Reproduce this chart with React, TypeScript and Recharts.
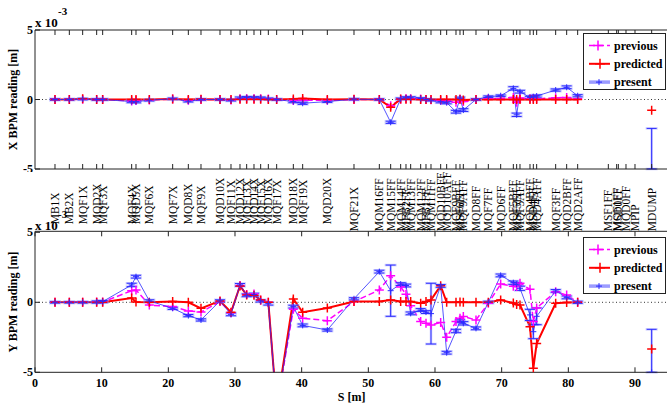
import React from "react";
import { LineChart, Line, XAxis, YAxis, ErrorBar, ReferenceLine, Legend, Customized } from "recharts";

const SERIF = "'Liberation Serif', 'Times New Roman', Times, serif";
const MAGENTA = "#ff00ff";
const RED = "#ff0000";
const BLUE = "#2b2bff";
const LIGHT_BLUE = "#9c9cff";
const AXIS = "#222";

// element names along the beamline and their s position [m]
const elementNames = [
  "MB1X", "MB2X", "MQF1X", "MQD2X", "MQF3X", "MQF4X", "MQD5X", "MQF6X", "MQF7X", "MQD8X",
  "MQF9X", "MQD10X", "MQF11X", "MQD12X", "MQF13X", "MQD14X", "MQF15X", "MQD16X", "MQF17X", "MQD18X",
  "MQF19X", "MQD20X", "MQF21X", "MQM16FF", "MQM15FF", "MQM14FF", "MFB2FF", "MQM13FF", "MQM12FF", "MFB1FF",
  "MQM11FF", "MQD10BFF", "MQD10AFF", "MQF9BFF", "MSF6FF", "MQF9AFF", "MQD8FF", "MQF7FF", "MQD6FF", "MQF5BFF",
  "MSF5FF", "MQF5AFF", "MQD4BFF", "MSD4FF", "MQD4AFF", "MQF3FF", "MQD2BFF", "MQD2AFF", "MSF1FF", "MQF1FF",
  "MSD0FF", "MQD0FF", "MPIP", "MDUMP",
];
const elementS = [
  3.0, 5.15, 7.15, 9.25, 10.15, 14.5, 15.15, 17.15, 20.65, 23.0,
  24.9, 27.75, 29.4, 30.75, 31.75, 32.85, 33.85, 35.0, 36.25, 38.75,
  40.15, 43.85, 47.85, 51.65, 53.35, 54.85, 55.65, 56.35, 57.85, 58.65,
  59.4, 60.85, 61.75, 63.15, 63.75, 64.25, 66.15, 68.0, 69.85, 71.75,
  72.25, 72.75, 74.25, 74.75, 75.25, 78.1, 79.75, 81.4, 86.0, 87.25,
  87.5, 88.65, 90.0, 92.5,
];

// X plane readings [1e-3 m]
const xPrevious = [
  0, 0, 0.02, 0, 0, -0.1, -0.08, -0.03, 0.03, -0.05,
  0, 0, -0.03, 0.05, 0.06, 0.06, 0.05, 0.03, 0, -0.08,
  -0.05, -0.06, 0, 0, -0.45, 0.02, 0.05, 0.05, 0.03, 0,
  -0.02, -0.05, -0.08, -0.2, 0.02, -0.15, 0, 0.05, 0.08, 0.15,
  -0.2, 0.1, 0.05, 0.05, 0.05, 0.12, 0.15, 0.05, null, null,
  null, null, null, null,
];
const xPredicted = [
  0, 0, 0.05, 0, 0, 0, 0, 0, 0.03, 0,
  0.02, 0, 0, 0.02, 0.02, 0.02, 0.02, 0, 0, 0.03,
  0.08, 0, 0.02, 0, -0.56, 0.03, 0.02, 0.02, 0, 0,
  0, 0, 0, 0, 0.02, -0.03, 0, 0, 0, 0,
  0, 0, 0, 0, 0, 0, 0, 0, null, null,
  null, null, null, -0.77,
];
const xPresent = [
  0, 0, 0.03, 0, 0, -0.15, -0.16, -0.05, 0.05, -0.12,
  0, 0, -0.05, 0.1, 0.13, 0.12, 0.1, 0.05, 0, -0.15,
  -0.27, -0.15, 0.02, 0, -1.64, 0.05, 0.12, 0.12, 0.07, 0,
  -0.05, -0.16, -0.23, -0.88, 0.09, -0.76, 0, 0.2, 0.27, 0.8,
  -1.1, 0.56, 0.15, 0.2, 0.25, 0.68, 0.88, 0.27, null, null,
  null, null, null, -5.0,
];
// symmetric, or [below, above]
const xPresentErr = [
  0.06, 0.06, 0.06, 0.06, 0.06, 0.08, 0.08, 0.06, 0.06, 0.06,
  0.06, 0.06, 0.06, 0.08, 0.08, 0.08, 0.08, 0.06, 0.06, 0.08,
  0.08, 0.06, 0.06, 0.06, 0.08, 0.06, 0.08, 0.08, 0.06, 0.06,
  0.06, 0.08, 0.08, 0.1, 0.08, 0.1, 0.06, 0.06, 0.06, 0.12,
  0.12, 0.1, 0.08, 0.08, 0.08, 0.08, 0.1, 0.08, null, null,
  null, null, null, [0, 2.92],
];

// Y plane readings [1e-3 m]
const yPrevious = [
  0, 0, 0, 0.02, 0.02, 0.83, 0.88, -0.2, -0.3, -0.62,
  -0.7, 0.05, -0.75, 1.2, 0.55, 0.6, 0.15, 0, -7.5, -0.5,
  -1.14, -1.31, 0.05, 0.88, 1.9, 1.1, 0.57, -0.24, -1.38, -1.5,
  -1.62, -1.45, -2.5, -1.38, -1.14, -1.02, -1.26, -0.07, 1.3, 1.15,
  1.12, 1.36, 0.93, -1.38, -0.4, 0.76, 0.52, 0, null, null,
  null, null, null, null,
];
const yPredicted = [
  0, 0, 0, 0, 0, 0.3, 0.02, 0, 0.05, 0,
  -0.43, 0.1, -0.71, 1.17, 0.52, 0.5, 0.17, 0, -7.5, 0.24,
  -0.71, -0.4, 0.05, 0.05, 0.17, 0.05, 0.05, 0.05, -0.07, 0.05,
  0.17, 1.19, 0, 0, 0.02, 0, 0, 0, 0.17, -0.05,
  -0.15, -0.19, -1.74, -4.71, -2.95, -0.07, -0.02, 0, null, null,
  null, null, null, -3.33,
];
const yPresent = [
  0, 0, 0, 0.02, 0.05, 1.24, 1.83, 0.1, -0.43, -0.95,
  -1.26, 0.1, -0.86, 1.24, 0.5, 0.55, 0.1, -0.1, -7.5, -0.31,
  -1.65, -1.98, 0.25, 2.19, 0.83, 1.3, 1.2, -0.79, -0.55, -0.7,
  -0.81, 1.17, -3.6, -2.05, -1.35, -1.5, -1.86, 0, 1.92, 1.4,
  1.29, 1.0, -0.9, -2.1, -1.0, 0.81, 0.35, 0, null, null,
  null, null, null, -5.0,
];
const yPresentErr = [
  0.06, 0.06, 0.06, 0.08, 0.08, 0.12, 0.1, 0.08, 0.08, 0.08,
  0.08, 0.08, 0.1, 0.1, 0.1, 0.1, 0.08, 0.1, 0.1, 0.1,
  0.1, 0.08, 0.08, 0.1, 1.83, 0.1, 0.1, 0.1, 0.1, 0.1,
  2.17, 0.1, 0.1, 0.12, 0.1, 0.12, 0.1, 0.08, 0.1, 0.12,
  0.12, 0.15, 0.4, 0.5, 0.6, 0.1, 0.1, 0.08, null, null,
  null, null, null, [0, 3.07],
];

const sTicks = [0, 10, 20, 30, 40, 50, 60, 70, 80, 90];
const readingTicks = [-5, 0, 5];
const legendItems = ["previous", "predicted", "present"];

const toRows = (prev, pred, pres, err) =>
  elementS.map((s, i) => ({ s, previous: prev[i], predicted: pred[i], present: pres[i], presentErr: err[i] }));

const xRows = toRows(xPrevious, xPredicted, xPresent, xPresentErr);
const yRows = toRows(yPrevious, yPredicted, yPresent, yPresentErr);

const W = 690;
const LEFT = 35;
const PLOT_W = 633.33;
const RIGHT = W - LEFT - PLOT_W;

function plusDot(color, r, w) {
  return (p) => {
    const { cx, cy, index, value } = p;
    if (cx == null || cy == null || value == null || Number.isNaN(cy)) return <g key={"d" + index} />;
    return (
      <path
        key={"d" + index}
        d={`M${cx - r},${cy}H${cx + r}M${cx},${cy - r}V${cy + r}`}
        stroke={color}
        strokeWidth={w}
        fill="none"
      />
    );
  };
}

const bold = { fontFamily: SERIF, fontWeight: "bold", fontSize: 12, fill: "#000" };

const tickUp = (withLabel) => (p) => (
  <g>
    <line x1={p.x} x2={p.x} y1={p.y} y2={p.y - 5} stroke={AXIS} />
    {withLabel && (
      <text x={p.x} y={p.y + 15} textAnchor="middle" {...bold}>
        {p.payload.value}
      </text>
    )}
  </g>
);
const tickDown = (p) => <line x1={p.x} x2={p.x} y1={p.y} y2={p.y + 5} stroke={AXIS} />;
const yTick = (p) => (
  <g>
    <line x1={p.x} x2={p.x + 5} y1={p.y} y2={p.y} stroke={AXIS} />
    <text x={p.x - 2} y={p.y + 4} textAnchor="end" {...bold}>
      {p.payload.value}
    </text>
  </g>
);
const nameTick = (p) => {
  const lift = p.index < 22 ? 8 : 1;
  const x = p.x + 4;
  const y = p.y - lift;
  return (
    <text x={x} y={y} transform={`rotate(-90, ${x}, ${y})`} fontFamily={SERIF} fontSize={11.5} fill="#000">
      {elementNames[p.index]}
    </text>
  );
};

function LegendBox() {
  return (
    <div style={{ width: 83, height: 57, border: `1px solid ${AXIS}`, background: "#fff", boxSizing: "border-box" }}>
      <svg width={81} height={55}>
        {legendItems.map((name, i) => {
          const y = 11.5 + i * 18.3;
          return (
            <g key={name}>
              {i === 0 && (
                <>
                  <line x1={5} x2={26} y1={y} y2={y} stroke={MAGENTA} strokeWidth={1.5} strokeDasharray="6 3" />
                  <path d={`M${9},${y}H${19}M${14},${y - 5}V${y + 5}`} stroke={MAGENTA} strokeWidth={1.5} />
                </>
              )}
              {i === 1 && (
                <>
                  <line x1={5} x2={26} y1={y} y2={y} stroke={RED} strokeWidth={2} />
                  <path d={`M${11},${y}H${21}M${16},${y - 5}V${y + 5}`} stroke={RED} strokeWidth={1.5} />
                </>
              )}
              {i === 2 && (
                <>
                  <line x1={5} x2={26} y1={y} y2={y} stroke={LIGHT_BLUE} strokeWidth={3.5} />
                  <path d={`M${12},${y}H${18}M${15},${y - 3}V${y + 3}`} stroke={BLUE} strokeWidth={1} />
                </>
              )}
              <text x={30} y={y + 4} {...bold}>
                {name}
              </text>
            </g>
          );
        })}
      </svg>
    </div>
  );
}

const series = () => [
  <ReferenceLine key="zero" y={0} stroke="#333" strokeDasharray="1 2.5" />,
  <Line
    key="previous"
    dataKey="previous"
    stroke={MAGENTA}
    strokeWidth={1.5}
    strokeDasharray="6 3"
    dot={plusDot(MAGENTA, 4.5, 1.5)}
    isAnimationActive={false}
  />,
  <Line
    key="predicted"
    dataKey="predicted"
    stroke={RED}
    strokeWidth={2}
    dot={plusDot(RED, 4.5, 1.5)}
    isAnimationActive={false}
  />,
  <Line
    key="present"
    dataKey="present"
    stroke={BLUE}
    strokeWidth={1}
    strokeOpacity={0.8}
    dot={plusDot(BLUE, 3, 1)}
    isAnimationActive={false}
  >
    <ErrorBar dataKey="presentErr" direction="y" width={6} stroke={LIGHT_BLUE} strokeWidth={2.5} strokeOpacity={0.5} isAnimationActive={false} />
    <ErrorBar dataKey="presentErr" direction="y" width={5} stroke={BLUE} strokeWidth={1} isAnimationActive={false} />
  </Line>,
];

function TopText() {
  return (
    <g>
      <text x={35} y={27} {...bold} fontSize={13}>x 10</text>
      <text x={58} y={15} {...bold} fontSize={11}>-3</text>
      <text x={17} y={99.5} transform="rotate(-90, 17, 99.5)" textAnchor="middle" {...bold}>
        X BPM reading [m]
      </text>
    </g>
  );
}

function BottomText() {
  return (
    <g>
      <text x={35} y={58} {...bold} fontSize={13}>x 10</text>
      <text x={58} y={46} {...bold} fontSize={11}>-3</text>
      <text x={17} y={130} transform="rotate(-90, 17, 130)" textAnchor="middle" {...bold}>
        Y BPM reading [m]
      </text>
      <text x={351.7} y={229} textAnchor="middle" {...bold}>
        S [m]
      </text>
    </g>
  );
}

const xAxisBase = {
  dataKey: "s",
  type: "number",
  domain: [0, 95],
  allowDataOverflow: true,
  interval: 0,
  height: 1,
  tickSize: 0,
  tickMargin: 0,
  tickLine: false,
  stroke: AXIS,
};
const yAxisBase = {
  type: "number",
  domain: [-5, 5],
  allowDataOverflow: true,
  ticks: readingTicks,
  interval: 0,
  width: 1,
  tickSize: 0,
  tickMargin: 0,
  tickLine: false,
  tick: yTick,
  stroke: AXIS,
};

export default function App() {
  return (
    <div style={{ position: "absolute", left: 0, top: 0, width: 667, height: 404, overflow: "hidden", background: "#fff" }}>
      <div style={{ position: "absolute", left: 0, top: 0 }}>
        <LineChart width={W} height={176} data={xRows} margin={{ top: 29, right: RIGHT, bottom: 6, left: LEFT - 1 }}>
          <XAxis {...xAxisBase} ticks={elementS} tick={tickUp(false)} />
          <XAxis {...xAxisBase} xAxisId="top" orientation="top" ticks={elementS} tick={tickDown} />
          <YAxis {...yAxisBase} />
          {series()}
          <Customized component={TopText} />
          <Legend
            content={() => <LegendBox />}
            layout="horizontal"
            verticalAlign="middle"
            align="center"
            wrapperStyle={{ left: 583, top: 33, width: 83, height: 57, right: "auto", bottom: "auto" }}
          />
        </LineChart>
      </div>
      <div style={{ position: "absolute", left: 0, top: 172, background: "#fff" }}>
        <LineChart width={W} height={232} data={yRows} margin={{ top: 58.3, right: RIGHT, bottom: 30.7, left: LEFT - 1 }}>
          <Customized component={BottomText} />
          <XAxis {...xAxisBase} ticks={sTicks} tick={tickUp(true)} />
          <XAxis {...xAxisBase} xAxisId="top" orientation="top" ticks={sTicks} tick={tickDown} />
          <XAxis {...xAxisBase} xAxisId="names" orientation="top" ticks={elementS} axisLine={false} tick={nameTick} />
          <YAxis {...yAxisBase} />
          {series()}
          <Legend
            content={() => <LegendBox />}
            layout="horizontal"
            verticalAlign="middle"
            align="center"
            wrapperStyle={{ left: 583, top: 64.7, width: 83, height: 57, right: "auto", bottom: "auto" }}
          />
        </LineChart>
      </div>
    </div>
  );
}
